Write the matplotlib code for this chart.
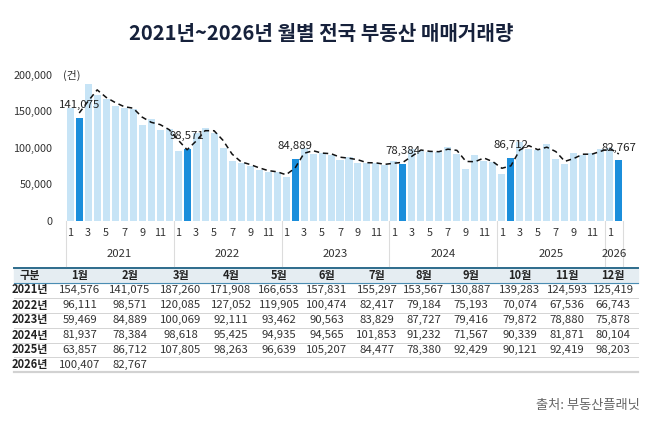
import matplotlib
matplotlib.use("Agg")
import matplotlib.pyplot as plt
import matplotlib.transforms as mtransforms
import numpy as np

plt.rcParams['font.family'] = ['Noto Sans CJK KR', 'DejaVu Sans']

# ---------------- data ----------------
years = ['2021', '2022', '2023', '2024', '2025', '2026']
months_hdr = ['1월', '2월', '3월', '4월', '5월', '6월', '7월', '8월', '9월', '10월', '11월', '12월']
v2021 = [154576, 141075, 187260, 171908, 166653, 157831, 155297, 153567, 130887, 139283, 124593, 125419]
v2022 = [96111, 98571, 120085, 127052, 119905, 100474, 82417, 79184, 75193, 70074, 67536, 66743]
v2023 = [59469, 84889, 100069, 92111, 93462, 90563, 83829, 87727, 79416, 79872, 78880, 75878]
v2024 = [81937, 78384, 98618, 95425, 94935, 94565, 101853, 91232, 71567, 90339, 81871, 80104]
v2025 = [63857, 86712, 107805, 98263, 96639, 105207, 84477, 78380, 92429, 90121, 92419, 98203]
v2026 = [100407, 82767]
year_values = [v2021, v2022, v2023, v2024, v2025, v2026]
yticks = [0, 50000, 100000, 150000, 200000]
highlight_month = 2  # February bars highlighted

# ---------------- derived series ----------------
values = np.array([v for yv in year_values for v in yv], dtype=float)
month_no = [m + 1 for yv in year_values for m in range(len(yv))]
x = np.arange(len(values))
ma2 = (values[1:] + values[:-1]) / 2.0  # 2-month moving average
x_ma = x[1:]

# ---------------- figure ----------------
fig = plt.figure(figsize=(6.58, 4.25), dpi=100)
W, H = 658, 425
ax = fig.add_axes([65.7 / W, 1 - 220.7 / H, (623.3 - 65.7) / W, (220.7 - 75) / H])
ax.set_facecolor('none')

light = '#c7e4f6'
dark = '#1b8edb'
colors = [dark if m == highlight_month else light for m in month_no]
ax.bar(x, values, width=0.78, color=colors, zorder=2)
ax.plot(x_ma, ma2, color='#111111', lw=1.1, ls=(0, (3.5, 2.5)), zorder=3, clip_on=False)

for i, (v, m) in enumerate(zip(values, month_no)):
    if m == highlight_month:
        ax.annotate(f'{int(v):,}', (i, v), xytext=(0, 9), textcoords='offset points',
                    ha='center', va='center', fontsize=8.2, color='#222222', zorder=5)

ax.set_xlim(-0.5, len(values) - 0.5)
ax.set_ylim(0, 200000)
ax.set_yticks(yticks)
ax.set_yticklabels([f'{t:,}' for t in yticks], fontsize=7.8, color='#333333')
tick_pos = [i for i, m in enumerate(month_no) if m % 2 == 1]
ax.set_xticks(tick_pos)
ax.set_xticklabels([str(month_no[i]) for i in tick_pos], fontsize=7.8, color='#333333')
ax.tick_params(axis='y', length=0, pad=9.5)
ax.tick_params(axis='x', length=0, pad=5)
for s in ax.spines.values():
    s.set_visible(False)

trans = mtransforms.blended_transform_factory(ax.transData, ax.transAxes)
start = 0
bounds = [-0.5]
for yr, yv in zip(years, year_values):
    end = start + len(yv)
    ax.text((start + end - 1) / 2, -0.231, yr, transform=trans, ha='center', va='center',
            fontsize=8.2, color='#333333')
    bounds.append(end - 0.5)
    start = end
for b in bounds:
    ax.plot([b, b], [0, -0.31], transform=trans, color='#dcdcdc', lw=0.8, clip_on=False)

# ---------------- overlay (title, table, source) ----------------
ov = fig.add_axes([0, 0, 1, 1], zorder=-1)
ov.set_xlim(0, W)
ov.set_ylim(H, 0)
ov.axis('off')

ov.text(321, 33, '2021년~2026년 월별 전국 부동산 매매거래량', ha='center', va='center',
        fontsize=14.5, fontweight='bold', color='#16213b')
fig.text(63 / W, 1 - 75 / H, '(건)', ha='left', va='center', fontsize=7.8, color='#333333')

tx0, tx1 = 14, 638
row_y = [275, 290, 305, 320, 335, 349.5, 364.5]
col_x = [30, 80, 130, 181, 231, 279, 327, 377, 424, 471, 520, 567, 613]

ov.fill_between([tx0, tx1], 267.5, 282.5, color='#e5edf2', zorder=0)
ov.plot([tx0, tx1], [267.5, 267.5], color='#2d6c8c', lw=1.4)
ov.plot([tx0, tx1], [282.5, 282.5], color='#4a8db3', lw=0.8)
for yy in [297.5, 312.5, 327.5, 342.5, 357]:
    ov.plot([tx0, tx1], [yy, yy], color='#d4d4d4', lw=0.7)
ov.plot([tx0, tx1], [371.5, 371.5], color='#d2d2d2', lw=1.6)

ov.text(col_x[0], row_y[0], '구분', ha='center', va='center', fontsize=8, fontweight='bold', color='#222222')
for cx, mh in zip(col_x[1:], months_hdr):
    ov.text(cx, row_y[0], mh, ha='center', va='center', fontsize=8, fontweight='bold', color='#222222')
for r, (yr, yv) in enumerate(zip(years, year_values)):
    ry = row_y[r + 1]
    ov.text(col_x[0], ry, yr + '년', ha='center', va='center', fontsize=8, fontweight='bold', color='#222222')
    for cx, v in zip(col_x[1:], yv):
        ov.text(cx, ry, f'{v:,}', ha='center', va='center', fontsize=8.2, color='#333333')

ov.text(640, 405, '출처: 부동산플래닛', ha='right', va='center', fontsize=9.5, color='#666666')

fig.savefig('out.png', dpi=100)
